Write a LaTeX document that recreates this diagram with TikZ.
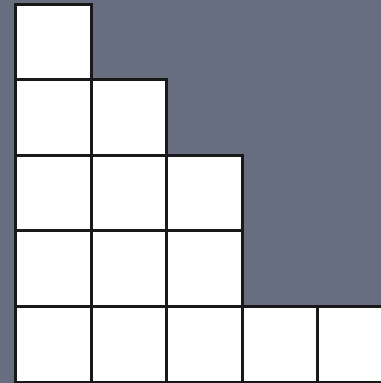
\documentclass[tikz,border=0pt]{standalone}
\usepackage{xcolor}
\definecolor{slatebg}{HTML}{676E80}
\tikzset{
  youngcell/.style={draw=black!90,line width=1.7pt,fill=white,
        minimum size=1.512cm,inner sep=0pt,outer sep=0pt}
}
\begin{document}
\begin{tikzpicture}[x=0.02cm,y=-0.02cm]
  \useasboundingbox (0,0) rectangle (381,383);
  \clip (0,0) rectangle (381,383);
  \fill[slatebg] (0,0) rectangle (381,383);
  % rows of the diagram, top to bottom
  \foreach \r/\len in {0/1,1/2,2/3,3/3,4/5}{
    \foreach \c in {1,...,\len}{
      \node[youngcell] (cell-\r-\c) at ({15.5+75.6*(\c-0.5)},{4+75.6*(\r+0.5)}) {};
    }
  }
\end{tikzpicture}
\end{document}
